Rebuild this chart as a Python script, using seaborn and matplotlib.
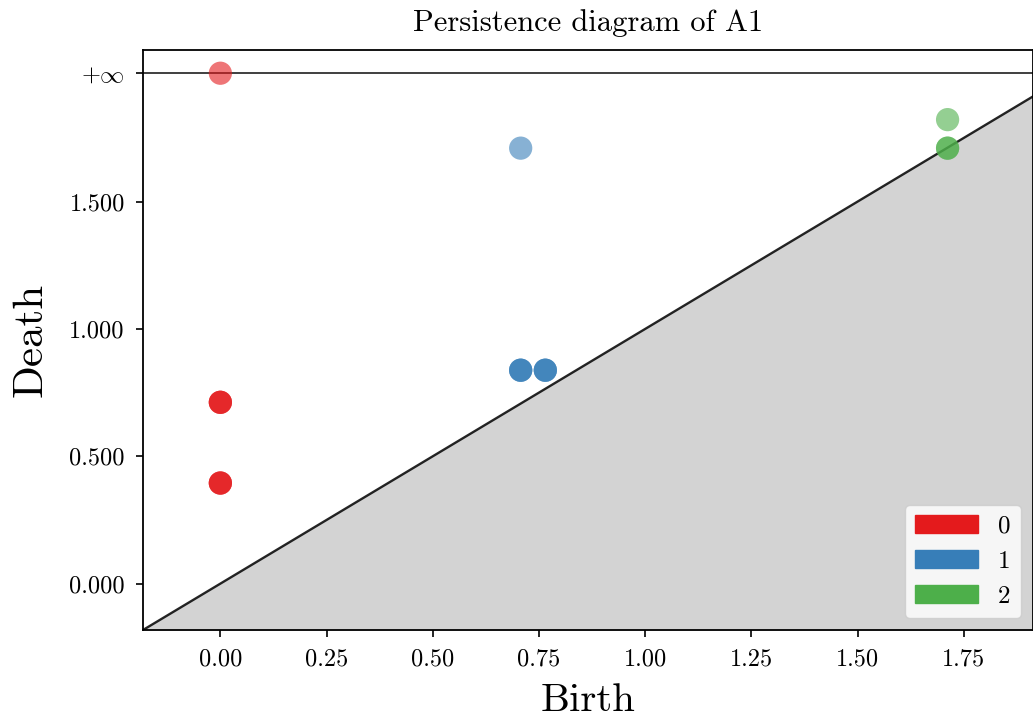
import numpy as np
import pandas as pd
import matplotlib
matplotlib.use("Agg")
import matplotlib.pyplot as plt
import matplotlib.patches as mpatches
import seaborn as sns

# Persistence pairs (birth, death) per homology dimension; repeated pairs overlap
dim0_birth = [0.0, 0.0, 0.0, 0.0, 0.0, 0.0]
dim0_death = [0.395, 0.395, 0.395, 0.712, 0.712, 0.712]
dim0_inf_birth = [0.0]
dim1_birth = [0.707, 0.707, 0.707, 0.765, 0.765, 0.765, 0.707]
dim1_death = [0.838, 0.838, 0.838, 0.838, 0.838, 0.838, 1.710]
dim2_birth = [1.712, 1.712, 1.712]
dim2_death = [1.822, 1.710, 1.710]

dims = ["0", "1", "2"]
colors = ["#e41a1c", "#377eb8", "#4daf4a"]

plt.rcParams["font.family"] = "cmr10"
plt.rcParams["mathtext.fontset"] = "cm"
plt.rcParams["axes.formatter.use_mathtext"] = True

# Axis extents follow the usual persistence-diagram convention
finite_deaths = dim0_death + dim1_death + dim2_death
all_births = dim0_birth + dim0_inf_birth + dim1_birth + dim2_birth
min_birth = min(all_births)
max_death = max(finite_deaths)
delta = (max_death - min_birth) * 0.1
infinity = max_death + delta
axis_start = min_birth - delta
axis_end = max_death + delta / 2

births = dim0_birth + dim0_inf_birth + dim1_birth + dim2_birth
deaths = dim0_death + [infinity] + dim1_death + dim2_death
labels = (["0"] * (len(dim0_birth) + len(dim0_inf_birth))
          + ["1"] * len(dim1_birth) + ["2"] * len(dim2_birth))
df = pd.DataFrame({"Birth": births, "Death": deaths, "dim": labels})

fig = plt.figure(figsize=(10.33, 7.25), dpi=100)
ax = fig.add_axes([0.1384, 0.131, 0.8616, 0.80])

# Diagonal and the region below it
x = np.linspace(axis_start, axis_end, 200)
ax.fill_between(x, axis_start, x, color="lightgrey", zorder=0)
ax.plot([axis_start, axis_end], [axis_start, axis_end], color="k", linewidth=1.7, alpha=0.85, zorder=1)
ax.plot([axis_start, axis_end], [infinity, infinity], color="k", linewidth=1.4, alpha=0.75, zorder=1)

sns.scatterplot(data=df, x="Birth", y="Death", hue="dim", hue_order=dims,
                palette=colors, s=280, alpha=0.6, linewidth=0, legend=False,
                ax=ax, zorder=2)

ax.set_xlim(axis_start, axis_end)
ax.set_ylim(axis_start, infinity + delta / 2)

xt = [0.0, 0.25, 0.5, 0.75, 1.0, 1.25, 1.5, 1.75]
ax.set_xticks(xt)
ax.set_xticklabels([f"{v:.2f}" for v in xt])
yt = [0.0, 0.5, 1.0, 1.5]
ax.set_yticks(yt + [infinity])
ax.set_yticklabels([f"{v:.3f}" for v in yt] + [r"$+\infty$"])
ax.tick_params(labelsize=17.5, length=5, width=1.2, pad=8)
for s in ax.spines.values():
    s.set_linewidth(1.3)

ax.set_xlabel("Birth", fontsize=29.5, labelpad=9)
ax.set_ylabel("Death", fontsize=31, labelpad=14)
ax.set_title("Persistence diagram of A1", fontsize=22, pad=14)

handles = [mpatches.Patch(color=c, label=d) for c, d in zip(colors, dims)]
ax.legend(handles=handles, loc="lower right", fontsize=18, handlelength=2.5)

fig.savefig("out.png", dpi=100)
